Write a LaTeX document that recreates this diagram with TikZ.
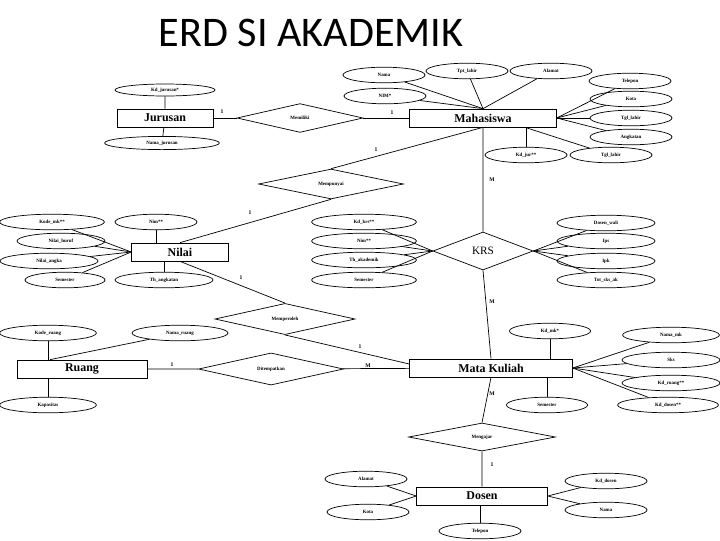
\documentclass[tikz,border=0pt]{standalone}
\usepackage{fontspec}
\setmainfont{Liberation Serif}
\newfontfamily\titlefont{Carlito}
\usetikzlibrary{shapes.geometric}
\begin{document}
\begin{tikzpicture}[x=0.025cm,y=-0.025cm,line width=0.5pt,
  ent/.style={draw,rectangle,minimum height=0.45cm,inner sep=0,font=\fontsize{8.5}{10}\selectfont\bfseries},
  attr/.style={draw,ellipse,minimum width=#1,minimum height=0.39cm,inner sep=0,font=\fontsize{3.5}{4}\selectfont\bfseries},
  attr/.default=2.05cm,
  rel/.style={draw,diamond,inner sep=0,font=\fontsize{3.5}{4}\selectfont\bfseries},
  card/.style={inner sep=0,font=\fontsize{4}{5}\selectfont\bfseries}]
\useasboundingbox (0,0) rectangle (720,540);
%
\node (judul) at (311,33) {\titlefont\fontsize{30}{36}\selectfont ERD SI AKADEMIK};
%
% entitas
\node[ent,minimum width=2.4cm] (jur) at (165,118) {Jurusan};
\node[ent,minimum width=3.67cm] (mhs) at (483,118) {Mahasiswa};
\node[ent,minimum width=2.42cm] (nilai) at (180,252) {Nilai};
\node[ent,minimum width=3.25cm] (ruang) at (82,369) {Ruang};
\node[ent,minimum width=4.07cm] (mk) at (491,368) {Mata Kuliah};
\node[ent,minimum width=3.27cm] (dsn) at (482,496) {Dosen};
%
% relasi
\node[rel,minimum width=3.15cm,minimum height=0.72cm] (memiliki) at (300,118) {Memiliki};
\node[rel,minimum width=3.62cm,minimum height=0.7cm] (mpy) at (331,184) {Mempunyai};
\node[rel,minimum width=2.5cm,minimum height=0.95cm,font=\fontsize{8}{9}\selectfont] (krs) at (483,251) {KRS};
\node[rel,minimum width=3.5cm,minimum height=0.7cm] (mpl) at (285,319) {Memperoleh};
\node[rel,minimum width=3.62cm,minimum height=0.68cm] (dtp) at (271,369) {Ditempatkan};
\node[rel,minimum width=3.67cm,minimum height=0.7cm] (mgj) at (482,437) {Mengajar};
%
% atribut jurusan
\node[attr=2.5cm,minimum height=0.3cm] (kdjur) at (165,90) {Kd\_jurusan*};
\node[attr=2.87cm,minimum height=0.33cm] (nmjur) at (162,143) {Nama\_jurusan};
\draw (kdjur)--(jur) (jur)--(nmjur);
%
% atribut mahasiswa
\node[attr] (mnama) at (384,75) {Nama};
\node[attr] (mtpt) at (467,71) {Tpt\_lahir};
\node[attr] (malamat) at (551,71) {Alamat};
\node[attr] (mtelp) at (630,81) {Telepon};
\node[attr] (mnim) at (385,96) {NIM*};
\node[attr] (mkota) at (631,99) {Kota};
\node[attr] (mtgl) at (631,118) {Tgl\_lahir};
\node[attr] (mangk) at (631,137) {Angkatan};
\node[attr] (mkdjur) at (526,155) {Kd\_jur**};
\node[attr] (mtgl2) at (611,155) {Tgl\_lahir};
\foreach \a in {mnama,mtpt,malamat,mnim}
  \draw (\a)--(mhs.north);
\foreach \a in {mtelp,mkota,mtgl,mangk}
  \draw (\a)--(mhs.east);
\draw (mkdjur)--(mkdjur|-mhs.south);
\draw ([xshift=1.05cm]mhs.south)--(mtgl2);
%
% atribut nilai
\node[attr=2.62cm] (nkode) at (52,222) {Kode\_mk**};
\node[attr] (nnim) at (156,222) {Nim**};
\node[attr=2.2cm] (nhuruf) at (61,241) {Nilai\_huruf};
\node[attr=2.45cm] (nangka) at (49,261) {Nilai\_angka};
\node[attr=2cm] (nsmt) at (65,280) {Semester};
\node[attr=2.45cm] (nthn) at (164,280) {Th\_angkatan};
\foreach \a in {nkode,nhuruf,nangka,nsmt}
  \draw (\a)--(nilai.west);
\draw (nnim)--(nnim|-nilai.north);
\draw (nthn)--(nthn|-nilai.south);
%
% atribut krs
\node[attr=2.62cm] (kkd) at (364,222) {Kd\_krs**};
\node[attr=2.62cm] (knim) at (364,241) {Nim**};
\node[attr=2.62cm] (kth) at (364,260) {Th\_akademik};
\node[attr=2.62cm] (ksmt) at (364,280) {Semester};
\node[attr=2.45cm] (kdw) at (606,223) {Dosen\_wali};
\node[attr=2.45cm] (kips) at (606,241) {Ips};
\node[attr=2.45cm] (kipk) at (606,261) {Ipk};
\node[attr=2.45cm] (ktot) at (606,280) {Tot\_sks\_ak};
\foreach \a in {kkd,knim,kth,ksmt}
  \draw (\a)--(krs.west);
\foreach \a in {kdw,kips,kipk,ktot}
  \draw (\a)--(krs.east);
%
% atribut ruang
\node[attr=2.42cm] (rkode) at (48,333) {Kode\_ruang};
\node[attr=2.4cm] (rnama) at (180,333) {Nama\_ruang};
\node[attr=2.42cm] (rkap) at (48,405) {Kapasitas};
\draw (rkode)--(rkode|-ruang.north) (rkap)--(rkap|-ruang.south);
\draw (rnama)--([xshift=-0.8cm]ruang.north);
%
% atribut mata kuliah
\node[attr=2.03cm] (kdmk) at (550,331) {Kd\_mk*};
\node[attr=2.42cm] (nmmk) at (671,335) {Nama\_mk};
\node[attr=2.45cm] (sks) at (671,360) {Sks};
\node[attr=2.45cm] (kdrg) at (671,383) {Kd\_ruang**};
\node[attr=2.52cm] (kdds) at (668,405) {Kd\_dosen**};
\node[attr=2.03cm] (smk) at (547,405) {Semester};
\draw (kdmk)--(kdmk|-mk.north) (smk)--(smk|-mk.south);
\foreach \a in {nmmk,sks,kdrg,kdds}
  \draw (\a)--(mk.east);
%
% atribut dosen
\node[attr] (dalamat) at (366,479) {Alamat};
\node[attr] (dkota) at (368,512) {Kota};
\node[attr] (dtelp) at (480,531) {Telepon};
\node[attr] (dkd) at (606,481) {Kd\_dosen};
\node[attr] (dnama) at (606,510) {Nama};
\draw (dalamat)--(dsn.west) (dkota)--(dsn.west);
\draw (dkd)--(dsn.east) (dnama)--(dsn.east);
\draw (dtelp)--(dtelp|-dsn.south);
%
% hubungan
\draw (jur)--(memiliki) (memiliki)--(mhs);
\draw (mhs.south)--(mpy.north) (nilai.north)--(mpy.south);
\draw (mhs.south)--(krs.north) (krs.south)--(mk.north);
\draw (nilai.south)--(mpl.north) (mpl.south)--([yshift=0.1cm]mk.west);
\draw (ruang)--(dtp) (dtp)--(mk);
\draw (mk.south)--(mgj.north) (mgj.south)--(dsn.north);
%
\node[card] (c1) at (222,112) {1};
\node[card] (c2) at (392,113) {1};
\node[card] (c3) at (376,150) {1};
\node[card] (c4) at (250,213) {1};
\node[card] (c5) at (492,180) {M};
\node[card] (c6) at (492,302) {M};
\node[card] (c7) at (241,278) {1};
\node[card] (c8) at (360,347) {1};
\node[card] (c9) at (172,365) {1};
\node[card] (c10) at (368,366) {M};
\node[card] (c11) at (492,394) {M};
\node[card] (c12) at (492,465) {1};
\end{tikzpicture}
\end{document}
